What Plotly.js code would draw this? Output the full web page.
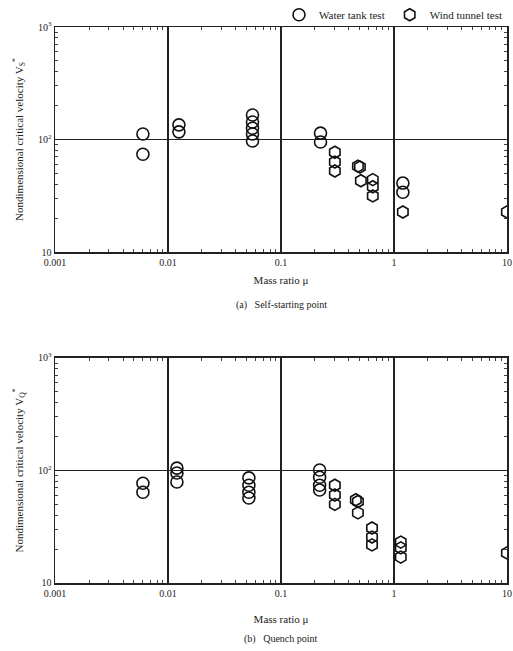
<!DOCTYPE html>
<html>
<head>
<meta charset="utf-8">
<script src="https://cdn.plot.ly/plotly-3.0.1.min.js"></script>
<style>html,body{margin:0;padding:0;background:#fff;}#chart{width:513px;height:651px;}</style>
</head>
<body>
<div id="chart"></div>
<script>
// (a) Self-starting point
const aWaterMu = [0.006, 0.006, 0.0125, 0.0125, 0.056, 0.056, 0.056, 0.056, 0.056, 0.224, 0.224, 1.2, 1.2];
const aWaterV  = [112, 74, 135, 117, 165, 143, 126, 112, 97, 114, 95, 41, 34];
const aWindMu  = [0.30, 0.30, 0.30, 0.48, 0.50, 0.51, 0.65, 0.65, 0.65, 1.2, 10];
const aWindV   = [77, 63, 52.5, 58, 57, 43, 44, 38, 31.5, 22.7, 22.7];
// (b) Quench point
const bWaterMu = [0.006, 0.006, 0.012, 0.012, 0.012, 0.052, 0.052, 0.052, 0.052, 0.22, 0.22, 0.22, 0.22];
const bWaterV  = [77, 64, 105, 95, 79, 86, 74, 64, 57, 101, 87, 74, 67];
const bWindMu  = [0.30, 0.30, 0.30, 0.46, 0.48, 0.48, 0.64, 0.64, 0.64, 1.15, 1.15, 1.15, 10];
const bWindV   = [74, 60.5, 50, 55, 53, 42, 30.8, 25.6, 21.8, 23.1, 20.5, 17, 18.5];

const xMajor = [0.001, 0.01, 0.1, 1, 10];
const xMajorText = ['0.001', '0.01', '0.1', '1', '10'];
const yMajor = [10, 100, 1000];
const yMajorText = ['10', '10<sup>2</sup>', '10<sup>3</sup>'];

function minorVals(lo, hi) {
  const out = [];
  for (let d = lo; d < hi; d *= 10) for (let k = 2; k <= 9; k++) out.push(+(d * k).toPrecision(3));
  return out;
}
const xMinor = minorVals(0.001, 10);
const yMinor = minorVals(10, 1000);

const FONT = 'Liberation Serif, DejaVu Serif, serif';
const mk = (sym) => ({symbol: sym, size: 12, color: '#111', line: {color: '#111', width: 1.6}});

const traces = [
  {x: aWaterMu, y: aWaterV, mode: 'markers', name: 'Water tank test', marker: mk('circle-open'), xaxis: 'x', yaxis: 'y'},
  {x: aWindMu, y: aWindV, mode: 'markers', name: 'Wind tunnel test', marker: mk('hexagon-open'), xaxis: 'x', yaxis: 'y'},
  {x: bWaterMu, y: bWaterV, mode: 'markers', name: 'Water tank test', marker: mk('circle-open'), xaxis: 'x2', yaxis: 'y2', showlegend: false},
  {x: bWindMu, y: bWindV, mode: 'markers', name: 'Wind tunnel test', marker: mk('hexagon-open'), xaxis: 'x2', yaxis: 'y2', showlegend: false}
];

function xax(anchor, title, standoff) {
  return {
    type: 'log', range: [-3, 1.001], anchor: anchor,
    tickmode: 'array', tickvals: xMajor, ticktext: xMajorText,
    ticks: 'inside', ticklen: 5, tickcolor: '#222',
    ticklabeloverflow: 'allow',
    minor: {tickmode: 'array', tickvals: xMinor, ticks: 'inside', ticklen: 3, tickcolor: '#444', showgrid: false},
    showgrid: true, gridcolor: '#222', gridwidth: 1.5,
    showline: true, linecolor: '#222', linewidth: 1.5, mirror: 'allticks',
    zeroline: false,
    tickfont: {family: FONT, size: 10, color: '#222'},
    title: {text: title, font: {family: FONT, size: 11, color: '#222'}, standoff: standoff}
  };
}
function yax(anchor, domain, title) {
  return {
    type: 'log', range: [1, 3], anchor: anchor, domain: domain,
    tickmode: 'array', tickvals: yMajor, ticktext: yMajorText,
    ticks: 'inside', ticklen: 5, tickcolor: '#222',
    minor: {tickmode: 'array', tickvals: yMinor, ticks: 'inside', ticklen: 3, tickcolor: '#444', showgrid: false},
    showgrid: true, gridcolor: '#222', gridwidth: 1.5,
    showline: true, linecolor: '#222', linewidth: 1.5, mirror: 'allticks',
    zeroline: false,
    tickfont: {family: FONT, size: 10, color: '#222'},
    title: {text: title, font: {family: FONT, size: 11, color: '#222'}, standoff: 12}
  };
}

const layout = {
  width: 513, height: 651,
  margin: {l: 55, r: 6, t: 27, b: 68, autoexpand: false},
  paper_bgcolor: '#fff', plot_bgcolor: '#fff',
  font: {family: FONT, size: 10, color: '#222'},
  showlegend: true,
  legend: {orientation: 'h', x: 1.0, y: 1.022, xanchor: 'right', yanchor: 'middle',
           font: {family: FONT, size: 11, color: '#222'}, itemwidth: 30, tracegroupgap: 0,
           bgcolor: 'rgba(0,0,0,0)'},
  xaxis: xax('y', 'Mass ratio μ', 10),
  yaxis: yax('x', [0.5953, 1], 'Nondimensional critical velocity V<sub>S</sub><sup>*</sup>'),
  xaxis2: xax('y2', 'Mass ratio μ', 18),
  yaxis2: yax('x2', [0, 0.4047], 'Nondimensional critical velocity V<sub>Q</sub><sup>*</sup>'),
  annotations: [
    {text: '(a)&nbsp;&nbsp;&nbsp;Self-starting point', xref: 'paper', yref: 'paper', x: 0.5, y: 0.5953, yshift: -53,
     showarrow: false, font: {family: FONT, size: 10, color: '#222'}},
    {text: '(b)&nbsp;&nbsp;&nbsp;Quench point', xref: 'paper', yref: 'paper', x: 0.5, y: 0, yshift: -64,
     showarrow: false, font: {family: FONT, size: 10, color: '#222'}}
  ]
};

Plotly.newPlot('chart', traces, layout, {displayModeBar: false, staticPlot: true});
</script>
</body>
</html>
